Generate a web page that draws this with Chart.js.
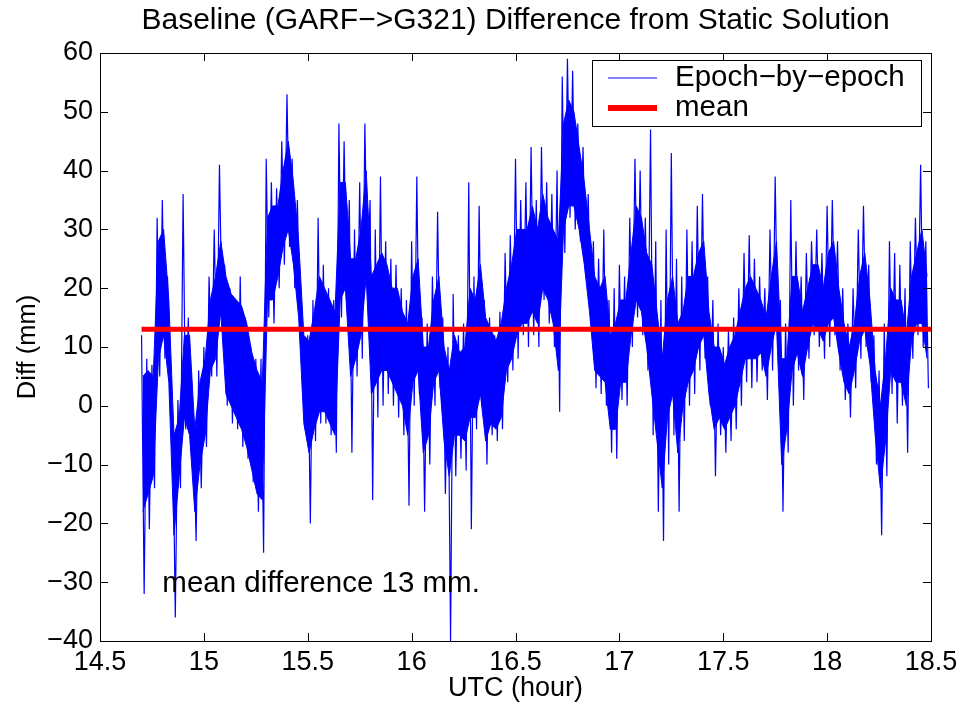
<!DOCTYPE html>
<html>
<head>
<meta charset="utf-8">
<title>Baseline difference</title>
<script src="https://cdn.jsdelivr.net/npm/chart.js@4.4.1/dist/chart.umd.min.js"></script>
<style>
    html, body { margin: 0; padding: 0; background: #fff; }
    #wrap { width: 965px; height: 706px; }
</style>
</head>
<body>
<div id="wrap"><canvas id="myChart" width="965" height="706"></canvas></div>
<script>
// epoch-by-epoch trace in 0.025 h bins starting at 14.7 h
// highs/lows = needle tips, coreHighs/coreLows = edges of the solid blue band
const startHour = 14.7;
const stepHour = 0.025;
const highs = [
    12, 8, 7, 32, 35, 22, -2, 1, 36, 15, -2, 6, 10, 22, 30, 41, 24, 20, 18, 22,
    15, 10, 8, 8, 42, 38, 37, 45, 53, 42, 35, 13, 12, 18, 32, 24, 20, 18, 48, 45,
    35, 30, 38, 48, 35, 30, 39, 28, 25, 24, 20, 18, 28, 39, 15, 14, 22, 33, 15, 10,
    19, 12, 14, 38, 22, 34, 18, 15, 12, 16, 26, 29, 42, 35, 38, 44, 35, 44, 38, 36,
    40, 56, 59, 57, 48, 44, 36, 28, 25, 30, 18, 20, 24, 22, 32, 42, 40, 32, 47, 28,
    18, 30, 43, 25, 22, 30, 28, 34, 36, 22, 18, 14, 10, 13, 15, 20, 26, 29, 25, 22,
    20, 30, 39, 18, 14, 35, 28, 22, 26, 28, 30, 26, 34, 35, 28, 20, 14, 20, 30, 34,
    24, 12, 6, 14, 28, 26, 24, 20, 28, 32, 41, 28
];
const lows = [
    -32, -21, -14, 5, 8, 2, -36, -14, -4, -7, -23, -14, -7, 5, 5, 15, 0, -3, -4, -7,
    -9, -13, -18, -25, 15, 14, 20, 24, 27, 20, 13, -4, -20, -6, -3, -3, -5, -8, 15, 18,
    -8, 5, 8, 20, -16, -2, 0, 2, 0, -2, -5, -17, 0, 2, -18, -10, 0, 3, -15, -40,
    -12, -9, -11, -21, -4, 0, -10, -5, -6, -4, 4, 6, 8, 12, 10, 12, 10, 18, 14, 10,
    -1, 26, 32, 30, 28, 22, 14, 3, 2, 0, -8, -9, 1, 0, 10, 15, 12, 6, -5, -18,
    -23, -10, -5, -18, -6, 0, 2, 6, 8, 0, -12, -5, -8, -6, -4, 0, 4, 3, 4, 6,
    1, 6, 10, -18, -8, 0, 6, 1, 8, 12, 10, 8, 10, 12, 6, 1, -2, 3, 8, 10,
    4, -10, -22, -12, 2, -3, 0, -8, 8, 12, 10, 3
];
const coreHighs = [
    5, 6, 5, 28, 30, 18, -5, -2, 12, 12, -4, 4, 8, 18, 22, 28, 22, 19, 18, 17,
    14, 9, 6, 4, 32, 34, 34, 40, 45, 38, 28, 12, 11, 16, 22, 20, 18, 16, 38, 38,
    25, 25, 30, 40, 22, 24, 26, 24, 20, 20, 16, 14, 22, 25, 10, 10, 18, 22, 10, 6,
    12, 9, 10, 20, 18, 24, 15, 13, 11, 14, 20, 24, 30, 30, 30, 34, 30, 36, 32, 30,
    28, 48, 52, 50, 44, 38, 30, 22, 20, 22, 12, 14, 18, 18, 26, 34, 32, 26, 24, 16,
    8, 18, 22, 14, 16, 22, 22, 26, 28, 16, 10, 10, 7, 10, 12, 16, 20, 22, 20, 18,
    15, 22, 28, 8, 8, 22, 22, 16, 20, 24, 24, 20, 26, 28, 20, 14, 10, 14, 22, 26,
    18, 6, 0, 8, 20, 18, 18, 12, 22, 26, 30, 22
];
const coreLows = [
    -18, -15, -12, 8, 12, 4, -22, -12, -2, -5, -18, -10, -5, 6, 8, 16, 2, 0, -2, -4,
    -7, -11, -15, -16, 18, 18, 22, 27, 30, 24, 15, -3, -8, -4, -1, -1, -3, -5, 18, 20,
    5, 8, 12, 22, 2, 4, 6, 6, 4, 2, 0, -5, 4, 6, -8, -5, 4, 6, -6, -12,
    -5, -5, -6, -2, -2, 2, -6, -3, -4, -2, 6, 8, 12, 14, 14, 16, 14, 20, 18, 14,
    6, 30, 34, 34, 30, 24, 16, 6, 5, 4, -4, -4, 4, 4, 12, 18, 16, 10, 2, -6,
    -14, -2, 2, -8, 0, 4, 6, 10, 12, 2, -4, -2, -4, -2, 0, 4, 8, 8, 8, 9,
    5, 10, 14, -10, -4, 6, 9, 5, 10, 14, 13, 11, 14, 15, 9, 4, 2, 6, 11, 13,
    7, -5, -14, -6, 6, 4, 4, 0, 11, 14, 14, 8
];
const meanValue = 13;
const meanHours = [14.7, 18.5];
const xTickValues = [14.5, 15, 15.5, 16, 16.5, 17, 17.5, 18, 18.5];
const yTickValues = [-40, -30, -20, -10, 0, 10, 20, 30, 40, 50, 60];

const FONT = "'Liberation Sans', Arial, Helvetica, sans-serif";
const BLUE = 'rgb(0,0,255)';

function binPoints(values, offset) {
    return values.map((v, k) => ({ x: startHour + (k + offset) * stepHour, y: v }));
}

// needles: high at the bin start, low half a bin later
function zigzag() {
    const pts = [];
    highs.forEach((h, k) => {
        pts.push({ x: startHour + k * stepHour, y: h });
        pts.push({ x: startHour + (k + 0.5) * stepHour, y: lows[k] });
    });
    return pts;
}

function minusSign(v) {
    return String(v).replace('-', '\u2212');
}

// matlab style box with inward ticks on all four sides
const axesBox = {
    id: 'axesBox',
    afterDatasetsDraw(chart) {
        const { ctx, chartArea: a, scales: { x, y } } = chart;
        const len = 8;
        ctx.save();
        ctx.strokeStyle = '#000';
        ctx.lineWidth = 1;
        ctx.beginPath();
        x.ticks.forEach(t => {
            const px = Math.round(x.getPixelForValue(t.value)) + 0.5;
            ctx.moveTo(px, a.bottom); ctx.lineTo(px, a.bottom - len);
            ctx.moveTo(px, a.top); ctx.lineTo(px, a.top + len);
        });
        y.ticks.forEach(t => {
            const py = Math.round(y.getPixelForValue(t.value)) + 0.5;
            ctx.moveTo(a.left, py); ctx.lineTo(a.left + len, py);
            ctx.moveTo(a.right, py); ctx.lineTo(a.right - len, py);
        });
        ctx.stroke();
        ctx.strokeRect(Math.round(a.left) + 0.5, Math.round(a.top) + 0.5, Math.round(a.width), Math.round(a.height));
        ctx.restore();
    }
};

const noteText = {
    id: 'noteText',
    afterDatasetsDraw(chart, args, opts) {
        const { ctx, scales: { x, y } } = chart;
        ctx.save();
        ctx.fillStyle = '#000';
        ctx.font = '29.5px ' + FONT;
        ctx.textAlign = 'left';
        ctx.textBaseline = 'middle';
        ctx.fillText(opts.text, x.getPixelForValue(opts.at[0]), y.getPixelForValue(opts.at[1]));
        ctx.restore();
    }
};

const boxLegend = {
    id: 'boxLegend',
    afterDraw(chart) {
        const { ctx, chartArea: a } = chart;
        const w = 329, h = 66;
        const left = a.right - 10 - w;
        const top = a.top + 7;
        ctx.save();
        ctx.fillStyle = '#fff';
        ctx.fillRect(left, top, w, h);
        ctx.strokeStyle = '#000';
        ctx.lineWidth = 1;
        ctx.strokeRect(left + 0.5, top + 0.5, w, h);
        chart.data.datasets.filter(ds => ds.label).forEach((ds, i) => {
            const ly = top + 18 + i * 30;
            ctx.strokeStyle = ds.borderColor;
            ctx.lineWidth = i === 0 ? 1 : 6;
            ctx.beginPath();
            ctx.moveTo(left + 16, ly);
            ctx.lineTo(left + 65, ly);
            ctx.stroke();
            ctx.fillStyle = '#000';
            ctx.font = '29.5px ' + FONT;
            ctx.textBaseline = 'middle';
            ctx.fillText(ds.label, left + 83, ly);
        });
        ctx.restore();
    }
};

new Chart(document.getElementById('myChart'), {
    type: 'line',
    data: {
        datasets: [
            {
                label: 'Epoch\u2212by\u2212epoch',
                data: zigzag(),
                borderColor: BLUE,
                borderWidth: 1.2,
                pointRadius: 0,
                tension: 0,
                order: 2
            },
            {
                label: 'mean',
                data: meanHours.map(h => ({ x: h, y: meanValue })),
                borderColor: 'rgb(255,0,0)',
                borderWidth: 5,
                pointRadius: 0,
                order: 1
            },
            // solid part of the trace
            {
                data: binPoints(coreHighs, 0.25),
                borderColor: BLUE,
                borderWidth: 1,
                backgroundColor: BLUE,
                fill: '+1',
                pointRadius: 0,
                order: 3
            },
            {
                data: binPoints(coreLows, 0.25),
                borderColor: BLUE,
                borderWidth: 1,
                pointRadius: 0,
                order: 4
            }
        ]
    },
    options: {
        responsive: false,
        animation: false,
        devicePixelRatio: 1,
        layout: { padding: { left: 0, right: 34, top: 0, bottom: 0 } },
        plugins: {
            legend: { display: false },
            tooltip: { enabled: false },
            filler: { propagate: false },
            title: {
                display: true,
                fullSize: false,
                text: 'Baseline (GARF\u2212>G321) Difference from Static Solution',
                color: '#000',
                font: { family: FONT, size: 30, weight: 'normal', lineHeight: 1.2 },
                padding: { top: 3, bottom: 14 }
            },
            noteText: { text: 'mean difference 13 mm.', at: [14.8, -30.3] }
        },
        scales: {
            x: {
                type: 'linear',
                min: 14.5,
                max: 18.5,
                afterBuildTicks: s => { s.ticks = xTickValues.map(v => ({ value: v })); },
                afterFit: s => { s.height = 65; },
                grid: { display: false, drawTicks: false },
                border: { display: false },
                ticks: {
                    color: '#000',
                    padding: 5,
                    maxRotation: 0,
                    autoSkip: false,
                    font: { family: FONT, size: 27 },
                    callback: v => minusSign(v)
                },
                title: {
                    display: true,
                    text: 'UTC (hour)',
                    color: '#000',
                    font: { family: FONT, size: 27, lineHeight: 1 },
                    padding: { top: 0, bottom: 4 }
                }
            },
            y: {
                type: 'linear',
                min: -40,
                max: 60,
                afterBuildTicks: s => { s.ticks = yTickValues.map(v => ({ value: v })); },
                afterFit: s => { s.width = 100; },
                grid: { display: false, drawTicks: false },
                border: { display: false },
                ticks: {
                    color: '#000',
                    padding: 7,
                    font: { family: FONT, size: 27 },
                    callback: v => minusSign(v)
                },
                title: {
                    display: true,
                    text: 'Diff (mm)',
                    color: '#000',
                    font: { family: FONT, size: 25.5, lineHeight: 1 },
                    padding: { top: 15, bottom: 0 }
                }
            }
        }
    },
    plugins: [axesBox, noteText, boxLegend]
});
</script>
</body>
</html>
